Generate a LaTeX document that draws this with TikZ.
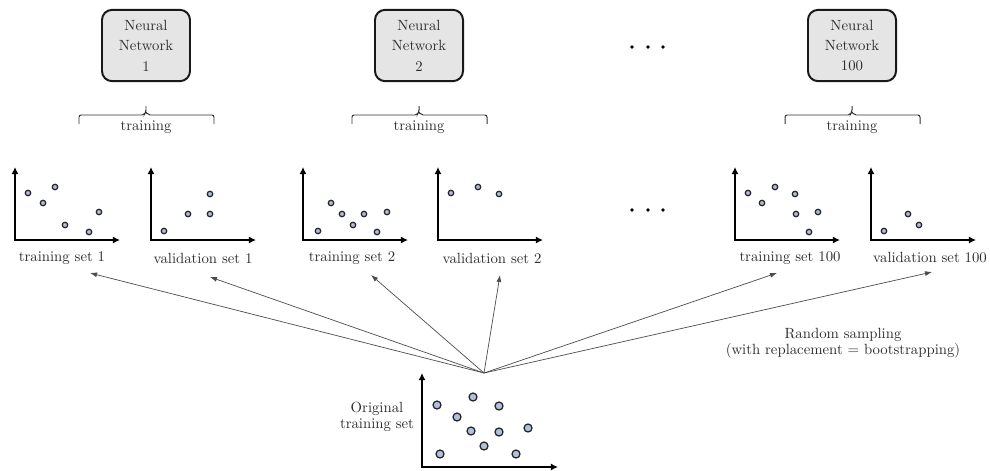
\documentclass[tikz,border=0pt]{standalone}
\usepackage{tikz}
\usetikzlibrary{arrows.meta,calc}
\definecolor{ptfill}{RGB}{178,192,222}
\definecolor{boxfill}{RGB}{229,229,229}
\definecolor{ink}{RGB}{45,45,45}
\tikzset{
  nnbox/.style  = {draw=black!90, fill=boxfill, rounded corners=0.25cm,
                   line width=1.4pt, align=center, inner sep=1pt,
                   minimum width=2.2cm, minimum height=1.78cm,
                   text=ink, font=\fontsize{10.5pt}{14.5pt}\selectfont},
  brc/.style    = {line width=0.7pt, draw=black!80, rounded corners=1.5pt},
  axis/.style   = {{Latex[length=5pt,width=5pt]}-{Latex[length=5pt,width=5pt]},
                   line width=1.4pt},
  pt/.style     = {draw=black!85, fill=ptfill, line width=0.9pt},
  lbl/.style    = {text=ink, inner sep=1pt, font=\fontsize{10.5pt}{12.6pt}\selectfont},
  twoline/.style = {text=ink, align=center, inner sep=1pt,
                   font=\fontsize{10.5pt}{11pt}\selectfont},
  sample/.style = {-{Latex[length=5pt,width=3.5pt]}, line width=0.5pt, draw=black!70}
}

\begin{document}
\begin{tikzpicture}[x=0.025cm, y=0.025cm]
\useasboundingbox (0,0) rectangle (990,470);

% --- networks + training braces ---
\foreach \i/\x in {1/146, 2/419, 100/852} {
  \node[nnbox] (nn\i) at (\x,424.5) {Neural\\Network\\\i};
  \draw[brc] (\x-67,346) -- (\x-67,355) -- (\x-2,355) -- (\x,358) -- (\x,364);
  \draw[brc] (\x+68,346) -- (\x+68,355) -- (\x+2,355) -- (\x,358);
  \node[lbl] (tr\i) at (\x,343) {training};
}
\foreach \x in {632,648,663} {
  \fill (\x,423) circle[radius=1.4pt];
  \fill (\x,260) circle[radius=1.4pt];
}

% --- small data sets ---
\foreach \nm/\ox/\lx/\txt in {t1/15/62/training set 1, v1/151/203/validation set 1,
    t2/303/352/training set 2, v2/438/492/validation set 2,
    t100/735/790/training set 100, v100/871/930/validation set 100} {
  \draw[axis] (\ox,303) -- (\ox,230) -- (\ox+105,230);
  \node[lbl] (\nm) at (\lx,212) {\txt};
}
\foreach \x/\y in {28/277, 43/267, 55/283, 65/245, 89/238, 99/258}
  \draw[pt] (\x,\y) circle[radius=0.068cm];
\foreach \x/\y in {164/239, 188/256, 210/276, 210/256}
  \draw[pt] (\x,\y) circle[radius=0.068cm];
\foreach \x/\y in {318/239, 331/267, 342/256, 353/245, 364/256, 377/238, 387/258}
  \draw[pt] (\x,\y) circle[radius=0.068cm];
\foreach \x/\y in {451/277, 478/283, 499/276}
  \draw[pt] (\x,\y) circle[radius=0.068cm];
\foreach \x/\y in {748/277, 762/267, 775/283, 795/276, 796/256, 818/258, 809/238}
  \draw[pt] (\x,\y) circle[radius=0.068cm];
\foreach \x/\y in {884/239, 908/256, 919/245}
  \draw[pt] (\x,\y) circle[radius=0.068cm];

% --- original set ---
\draw[axis] (422,97) -- (422,3) -- (558,3);
\foreach \x/\y in {437/65, 473/73, 499/64, 457/53, 471/39, 499/38,
                   528/42, 484/24, 440/16, 516/16}
  \draw[pt] (\x,\y) circle[radius=0.1cm];
\node[twoline] (orig) at (377,53) {Original\\training set};

% --- bootstrap sampling ---
\coordinate (fan) at (484,97);
\foreach \nm/\x/\y in {t1/90/197, v1/210/193, t2/371/195, v2/500/195,
                       t100/777/197, v100/932/198} {
  \coordinate (\nm tip) at (\x,\y);
  \draw[sample] (fan) -- (\nm tip);
}
\node[twoline] (rs) at (843,127) {Random sampling\\(with replacement = bootstrapping)};

\end{tikzpicture}
\end{document}
